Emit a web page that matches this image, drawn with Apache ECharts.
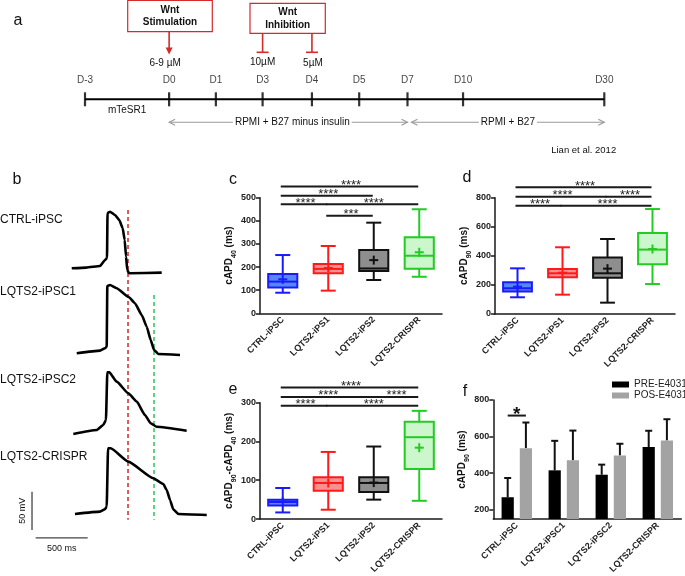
<!DOCTYPE html>
<html><head><meta charset="utf-8">
<script src="https://cdn.jsdelivr.net/npm/echarts@6/dist/echarts.min.js"></script>
<style>html,body{margin:0;padding:0;background:#fff}#c{width:685px;height:576px}</style>
</head><body><div id="c"></div>
<script>
// ================= DATA =================
// panel a: protocol timeline
const timelineDays = ['D-3','D0','D1','D3','D4','D5','D7','D10','D30'];
const timelinePos  = [0, 16.2, 25.2, 34.2, 43.7, 52.8, 62.1, 72.8, 100]; // schematic position (%)
const stimConc = '6-9 µM';
const inhibConc = ['10µM', '5µM'];
const mediaLabels = ['mTeSR1', 'RPMI + B27 minus insulin', 'RPMI + B27'];

// panel b: action potential traces [time ms, membrane potential mV]
const traceNames = ['CTRL-iPSC','LQTS2-iPSC1','LQTS2-iPSC2','LQTS2-CRISPR'];
const traceCTRL = [[-339,-70.4],[-200,-69.5],[-67,-67.4],[-19,-59.6],[0,-56.9],[5,1.8],[29,3.5],[77,-0.8],[118,-7.3],[151,-18.2],[170,-33.4],[183,-55.2],[195,-72.6],[212,-76.9],[526,-76.1]];
const traceLQT1 = [[-291,-70.4],[-67,-67.0],[-19,-63.9],[-3,-61.8],[3,17.5],[29,18.8],[93,14.5],[205,3.5],[269,-5.1],[334,-20.4],[382,-35.7],[420,-53],[452,-66.1],[493,-71.3],[702,-72.6]];
const traceLQT2 = [[-324,-73.9],[-99,-68.7],[-36,-62.2],[-10,-55.6],[3,6.6],[22,6.6],[93,-5.6],[205,-20.8],[286,-31.7],[365,-49.1],[420,-59.9],[478,-64.4],[766,-69.6]];
const traceCRISPR = [[-308,-71.3],[-67,-68.3],[-19,-65.2],[-3,-61.8],[10,14.5],[36,14.5],[205,-3],[445,-24.7],[541,-32.1],[574,-40],[606,-53],[637,-65.2],[686,-71.3],[959,-72.6]];
const apdMarkersMs = [202, 452];   // red and green dashed lines
const scaleBarMv = 50, scaleBarMs = 500;

// panels c, d, e: box stats [min, Q1, median, Q3, max, mean]
const groupsBox = ['CTRL-iPSC','LQTS2-iPS1','LQTS2-iPS2','LQTS2-CRISPR'];
const apd40Stats = [[89,112,137,170,252,147],[98,173,192,213,291,196],[144,183,194,274,392,230],[158,193,249,329,450,264]];
const apd90Stats = [[115,154,177,218,314,188],[133,252,280,310,459,284],[78,250,280,388,516,312],[206,342,443,557,722,447]];
const diffStats  = [[17,35,44,50,80,44],[24,73,93,108,173,93],[50,70,93,108,187,94],[47,129,211,251,279,184]];
// significance [fromGroup, toGroup, level(ms), label]
const sigC = [[0,3,548,'****'],[0,2,508,'****'],[0,1,472,'****'],[1,3,472,'****'],[1,2,422,'***']];
const sigD = [[0,3,872,'****'],[0,2,807,'****'],[2,3,807,'****'],[0,1,745,'****'],[1,3,745,'****']];
const sigE = [[0,3,339,'****'],[0,2,315,'****'],[2,3,315,'****'],[0,1,292,'****'],[1,3,292,'****']];

// panel f
const groupsF = ['CTRL-iPSC','LQTS2-iPSC1','LQTS2-iPSC2','LQTS2-CRISPR'];
const preE4031 = [269,416,392,543];
const preE4031Top = [374,577,447,632];
const posE4031 = [537,471,497,579];
const posE4031Top = [677,633,561,695];
const sigF = [[0,715,'*']];

// ================= STYLE =================
const FONT = 'Liberation Sans, Arial, Helvetica, sans-serif';
const INK = '#1a1a1a';
const boxColors = [
  {stroke:'#1a1aff', fill:'#5688f5'},
  {stroke:'#ff1a1a', fill:'#fb9090'},
  {stroke:'#111111', fill:'#8e8e8e'},
  {stroke:'#22cc22', fill:'#ccf6cc'}
];

const chart = echarts.init(document.getElementById('c'));

function boxRender(params, api) {
  const i = api.value(0);
  const col = boxColors[i];
  const cw = api.size([1, 0])[0];
  const bw = cw * 0.64, capw = cw * 0.33;
  const X = api.coord([i, 0])[0];
  const y = k => api.coord([i, api.value(k)])[1];
  const yMin = y(1), yQ1 = y(2), yMed = y(3), yQ3 = y(4), yMax = y(5), yMean = y(6);
  const ls = {stroke: col.stroke, lineWidth: 2};
  return {type: 'group', children: [
    {type:'line', shape:{x1:X,y1:yQ3,x2:X,y2:yMax}, style:ls},
    {type:'line', shape:{x1:X,y1:yQ1,x2:X,y2:yMin}, style:ls},
    {type:'line', shape:{x1:X-capw/2,y1:yMax,x2:X+capw/2,y2:yMax}, style:ls},
    {type:'line', shape:{x1:X-capw/2,y1:yMin,x2:X+capw/2,y2:yMin}, style:ls},
    {type:'rect', shape:{x:X-bw/2,y:yQ3,width:bw,height:yQ1-yQ3}, style:{fill:col.fill, stroke:col.stroke, lineWidth:2}},
    {type:'line', shape:{x1:X-bw/2,y1:yMed,x2:X+bw/2,y2:yMed}, style:ls},
    {type:'line', shape:{x1:X-4.5,y1:yMean,x2:X+4.5,y2:yMean}, style:ls},
    {type:'line', shape:{x1:X,y1:yMean-4.5,x2:X,y2:yMean+4.5}, style:ls}
  ]};
}
function makeSigRender(arr) {
  return function(params, api) {
    const r = arr[params.dataIndex];
    const p1 = api.coord([r[0], r[2]]), p2 = api.coord([r[1], r[2]]);
    return {type:'group', children:[
      {type:'line', shape:{x1:p1[0]-2, y1:p1[1], x2:p2[0]-1, y2:p1[1]}, style:{stroke:INK, lineWidth:2}},
      {type:'text', style:{x:(p1[0]+p2[0])/2, y:p1[1]-1, text:r[3], align:'center', verticalAlign:'middle', fontSize:13, fontFamily:FONT, fill:'#222'}}
    ]};
  };
}
function makeErrRender(sign) {
  return function(params, api) {
    const i = api.value(0);
    const cw = api.size([1, 0])[0];
    const off = sign * cw * 0.26 * 1.49 / 2;
    const b = api.coord([i, api.value(1)]);
    const t = api.coord([i, api.value(2)]);
    const X = b[0] + off;
    const st = {stroke:'#111', lineWidth:2};
    return {type:'group', children:[
      {type:'line', shape:{x1:X,y1:b[1],x2:X,y2:t[1]}, style:st},
      {type:'line', shape:{x1:X-3.5,y1:t[1],x2:X+3.5,y2:t[1]}, style:st}
    ]};
  };
}
function sigFRender(params, api) {
  const r = sigF[params.dataIndex];
  const cw = api.size([1, 0])[0];
  const off = cw * 0.26 * 1.49 / 2;
  const p = api.coord([r[0], r[1]]);
  return {type:'group', children:[
    {type:'line', shape:{x1:p[0]-off, y1:p[1], x2:p[0]+off, y2:p[1]}, style:{stroke:INK, lineWidth:2}},
    {type:'text', style:{x:p[0], y:p[1]-1, text:r[2], align:'center', verticalAlign:'middle', fontSize:19, fontWeight:'bold', fontFamily:FONT, fill:'#111'}}
  ]};
}

const axisLineS = {lineStyle:{color:INK, width:1.5}};
const axisTickS = {length:4, lineStyle:{color:INK, width:1.5}};
const nameRich = {
  a:{fontSize:10, fontWeight:'bold', fontFamily:FONT, color:'#111', lineHeight:12, verticalAlign:'top'},
  s:{fontSize:7, fontWeight:'bold', fontFamily:FONT, color:'#111', lineHeight:19, verticalAlign:'middle'}
};
function catX(grid, data) {
  return {type:'category', gridIndex:grid, data:data, axisLine:axisLineS,
    axisTick:Object.assign({alignWithLabel:true}, axisTickS),
    axisLabel:{rotate:45, interval:0, fontSize:9, fontWeight:'bold', color:'#222', fontFamily:FONT, margin:5}};
}
function valY(grid, min, max, interval, name, gap, extra) {
  return Object.assign({type:'value', gridIndex:grid, min:min, max:max, interval:interval,
    axisLine:Object.assign({show:true}, axisLineS), axisTick:Object.assign({show:true}, axisTickS),
    splitLine:{show:false},
    axisLabel:{fontSize:9, fontWeight:'bold', color:'#222', fontFamily:FONT, margin:4},
    name:name, nameLocation:'middle', nameGap:gap, nameRotate:90,
    nameTextStyle:{rich:nameRich}}, extra || {});
}
function hiddenX(grid, min, max) { return {type:'value', gridIndex:grid, min:min, max:max, show:false}; }
function hiddenY(grid, min, max) { return {type:'value', gridIndex:grid, min:min, max:max, show:false}; }

const traces = [traceCTRL, traceLQT1, traceLQT2, traceCRISPR];
const traceTops = [206.7, 291.7, 369.7, 451.7];

const grids = [{left:85, top:89.3, width:519.3, height:20}];
traceTops.forEach(t => grids.push({left:23.8, top:t, width:197.6, height:91.9}));
grids.push({left:260, top:197.7, width:182, height:115.6});
grids.push({left:495, top:197.7, width:180, height:116.3});
grids.push({left:260, top:402.7, width:182, height:116.6});
grids.push({left:493.3, top:400, width:188, height:120});

const xAxes = [hiddenX(0, 0, 100)];
const yAxes = [hiddenY(0, -1, 1)];
for (let k = 1; k <= 4; k++) { xAxes.push(hiddenX(k, -800, 1100)); yAxes.push(hiddenY(k, -110, 10)); }
xAxes.push(catX(5, groupsBox)); yAxes.push(valY(5, 0, 500, 100, '{a|cAPD}{s|40}{a| (ms)}', 13));
xAxes.push(catX(6, groupsBox)); yAxes.push(valY(6, 0, 800, 200, '{a|cAPD}{s|90}{a| (ms)}', 16));
xAxes.push(catX(7, groupsBox)); yAxes.push(valY(7, 0, 300, 100, '{a|cAPD}{s|90}{a|-cAPD}{s|40}{a| (ms)}', 14));
xAxes.push(catX(8, groupsF));
yAxes.push(valY(8, 150, 800, null, '{a|cAPD}{s|90}{a| (ms)}', 15,
  {interval: undefined,
   axisLabel:{fontSize:9, fontWeight:'bold', color:'#222', fontFamily:FONT, margin:4, customValues:[200,400,600,800]},
   axisTick:{show:true, length:4, lineStyle:{color:INK, width:1.5}, customValues:[200,400,600,800]}}));

const series = [];
// panel a timeline
series.push({type:'line', xAxisIndex:0, yAxisIndex:0, data:[[timelinePos[0],0],[timelinePos[timelinePos.length-1],0]],
  showSymbol:false, lineStyle:{color:'#000', width:2}, silent:true});
series.push({type:'scatter', xAxisIndex:0, yAxisIndex:0, data:timelinePos.map((p,i)=>[p,0,timelineDays[i]]),
  symbol:'rect', symbolSize:[2.2,14], itemStyle:{color:'#000'},
  label:{show:true, position:'top', distance:7, formatter:p=>p.data[2], fontSize:10, color:'#111', fontFamily:FONT}});
// panel b traces
traces.forEach((tr, k) => series.push({type:'line', xAxisIndex:k+1, yAxisIndex:k+1, data:tr, showSymbol:false, clip:false,
  smooth:0.15, smoothMonotone:'x', lineStyle:{color:'#000', width:2.6}, silent:true}));
// scale bars in last trace grid
const sbOrigin = [-721, -92.2];
series.push({type:'line', xAxisIndex:4, yAxisIndex:4, data:[[sbOrigin[0], sbOrigin[1]],[sbOrigin[0], sbOrigin[1]+scaleBarMv]],
  showSymbol:false, clip:false, lineStyle:{color:'#444', width:1.3}, silent:true});
series.push({type:'line', xAxisIndex:4, yAxisIndex:4, data:[[-686,-102.6],[-686+scaleBarMs,-102.6]],
  showSymbol:false, clip:false, lineStyle:{color:'#444', width:1.3}, silent:true});
// panels c,d,e
[[5, apd40Stats, sigC],[6, apd90Stats, sigD],[7, diffStats, sigE]].forEach(([g, stats, sig]) => {
  series.push({type:'custom', xAxisIndex:g, yAxisIndex:g, data:stats.map((s,i)=>[i].concat(s)),
    encode:{x:0, y:[1,2,3,4,5,6]}, renderItem:boxRender, silent:true});
  series.push({type:'custom', xAxisIndex:g, yAxisIndex:g, data:sig.map(r=>[r[0],r[1],r[2]]),
    encode:{x:[0,1], y:2}, renderItem:makeSigRender(sig), clip:false, silent:true});
});
// panel f
series.push({type:'bar', name:'PRE-E4031', xAxisIndex:8, yAxisIndex:8, data:preE4031, barWidth:'26%', barGap:'49%', itemStyle:{color:'#000'}});
series.push({type:'bar', name:'POS-E4031', xAxisIndex:8, yAxisIndex:8, data:posE4031, barWidth:'26%', barGap:'49%', itemStyle:{color:'#a3a3a3'}});
series.push({type:'custom', xAxisIndex:8, yAxisIndex:8, data:preE4031.map((v,i)=>[i,v,preE4031Top[i]]), encode:{x:0,y:[1,2]}, renderItem:makeErrRender(-1), silent:true});
series.push({type:'custom', xAxisIndex:8, yAxisIndex:8, data:posE4031.map((v,i)=>[i,v,posE4031Top[i]]), encode:{x:0,y:[1,2]}, renderItem:makeErrRender(1), silent:true});
series.push({type:'custom', xAxisIndex:8, yAxisIndex:8, data:sigF.map(r=>[r[0],r[1]]), encode:{x:0,y:1}, renderItem:sigFRender, clip:false, silent:true});

chart.setOption({
  animation:false,
  textStyle:{fontFamily:FONT},
  grid:grids, xAxis:xAxes, yAxis:yAxes, series:series,
  legend:{data:['PRE-E4031','POS-E4031'], orient:'vertical', left:612, top:379, padding:0, itemGap:0,
    icon:'rect', itemWidth:17, itemHeight:6, textStyle:{fontSize:10, color:'#222', fontFamily:FONT, lineHeight:11}}
});

// ================= ANNOTATIONS =================
const px = (g, v) => chart.convertToPixel({gridIndex:g}, v);
const T = (x, y, text, o, rot) => ({type:'text', x:x, y:y, rotation:rot || 0, silent:true,
  style:Object.assign({text:text, fontSize:10, fontFamily:FONT, fill:'#111', align:'center', verticalAlign:'middle'}, o||{})});
const L = (x1,y1,x2,y2,stroke,w,extra) => ({type:'line', silent:true, shape:{x1,y1,x2,y2}, style:Object.assign({stroke:stroke, lineWidth:w}, extra||{})});
const RED = '#d42a2a', GRAY = '#9a9a9a';
const g = [];
// panel letters
[['a',18,21],['b',17,180],['c',233,180],['d',467,178],['e',233,390],['f',465,392]].forEach(([t,x,y]) =>
  g.push(T(x, y, t, {fontSize:16})));

// panel a
const d = timelinePos.map(p => px(0, [p, 0]));
g.push({type:'rect', silent:true, shape:{x:127.7, y:0.5, width:84.6, height:31.2}, style:{fill:'#fff', stroke:RED, lineWidth:1.2}});
g.push(T(170, 16, 'Wnt\nStimulation', {fontWeight:'bold', lineHeight:12.5}));
g.push({type:'rect', silent:true, shape:{x:250, y:3.3, width:75.3, height:30}, style:{fill:'#fff', stroke:RED, lineWidth:1.2}});
g.push(T(287.7, 18.8, 'Wnt\nInhibition', {fontWeight:'bold', lineHeight:12.5}));
g.push(L(d[1][0], 31.7, d[1][0], 49, RED, 1.6));
g.push({type:'polygon', silent:true, shape:{points:[[d[1][0]-3.5,47.5],[d[1][0]+3.5,47.5],[d[1][0],54.5]]}, style:{fill:RED}});
g.push(T(d[1][0]-4, 63, stimConc));
[3,4].forEach((idx, j) => {
  const x = d[idx][0];
  g.push(L(x, 33.3, x, 52.3, RED, 1.6));
  g.push(L(x-6, 52.3, x+6, 52.3, RED, 1.6));
  g.push(T(x + j, 62 + j, inhibConc[j]));
});
const yl = d[0][1];
g.push(T((d[0][0]+d[1][0])/2, yl + 11, mediaLabels[0]));
const ya = yl + 23;
function dblArrow(x1, x2, label, cx) {
  g.push(L(x1, ya, x2, ya, GRAY, 1.1));
  g.push({type:'polyline', silent:true, shape:{points:[[x1+6,ya-3],[x1,ya],[x1+6,ya+3]]}, style:{stroke:GRAY, lineWidth:1.1, fill:null}});
  g.push({type:'polyline', silent:true, shape:{points:[[x2-6,ya-3],[x2,ya],[x2-6,ya+3]]}, style:{stroke:GRAY, lineWidth:1.1, fill:null}});
  g.push(T(cx, ya, label, {backgroundColor:'#fff', padding:[0,2]}));
}
dblArrow(d[1][0], d[6][0], mediaLabels[1], (d[1][0]+d[6][0])/2 + 4);
dblArrow(d[6][0]+4, d[8][0], mediaLabels[2], (d[6][0]+4+d[8][0])/2);
g.push(T(583.7, 150, 'Lian et al. 2012', {fontSize:9.5}));

// panel b
[220, 292, 380, 457].forEach((y, k) => g.push(T(0, y, traceNames[k], {align:'left', fontSize:12})));
const mColors = ['#cc2a2a', '#2fc25f'];
const mTop = [[1, 5.7], [2, 5.7]];
apdMarkersMs.forEach((t, j) => {
  const top = px(mTop[j][0], [t, mTop[j][1]]);
  const bot = px(4, [t, -79]);
  g.push(L(top[0], top[1], bot[0], bot[1], mColors[j], 1.5, {lineDash:[4,3]}));
});
const sv = px(4, [sbOrigin[0], sbOrigin[1] + scaleBarMv/2]);
g.push(T(sv[0]-10, sv[1], '50 mV', {fontSize:9}, Math.PI/2));
const sh = px(4, [-686 + scaleBarMs/2, -102.6]);
g.push(T(sh[0], sh[1]+11, '500 ms', {fontSize:9}));

chart.setOption({graphic:{elements:g}});
</script></body></html>
